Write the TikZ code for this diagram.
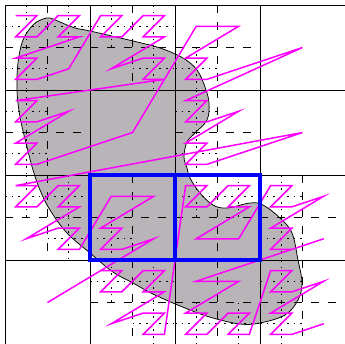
\documentclass[tikz,border=0pt]{standalone}
\definecolor{blobgray}{RGB}{184,180,184}
\definecolor{zmagenta}{RGB}{255,0,255}
\definecolor{patchblue}{RGB}{0,0,255}
\tikzset{
  solidline/.style={black, line width=1pt},
  dashline/.style={black, line width=1pt, dash pattern=on 10.6pt off 12.1pt},
  dotline/.style={black, line width=1.5pt, dash pattern=on 2.2pt off 6.8pt},
  zcurve/.style={zmagenta, line width=2pt, line join=miter},
  patchbox/.style={patchblue, line width=4.2pt}
}
\begin{document}
\begin{tikzpicture}[x=0.5cm,y=-0.5cm]
\useasboundingbox (-0.4706,-0.4706) rectangle (32,31.8118);

% Blob, traced in reference pixels
\begin{scope}[x=0.04706cm,y=-0.04706cm,shift={(-5,-5)}]
\draw[fill=blobgray, line width=1pt] plot[smooth cycle, tension=0.6] coordinates {
  (50,18) (60,22) (75,28) (90,31) (133,41) (160,48) (183,58) (197,70)
  (205,87) (209,103) (207,120) (195,133) (187,142) (184,157) (187,168)
  (190,178) (200,193) (213,205) (227,208) (250,203) (263,205) (280,218)
  (292,233) (298,260) (302,283) (298,300) (285,315) (260,323) (240,324)
  (213,318) (190,310) (155,295) (133,283) (113,272) (90,253) (67,233)
  (50,210) (40,190) (33,170) (27,147) (20,117) (17,90) (18,63) (23,40)
  (33,25) (43,19)
};
\end{scope}

% Solid lines
\foreach \k in {0,8,16,24,32} {
  \draw[solidline] (\k,0) -- (\k,32);
  \draw[solidline] (0,\k) -- (32,\k);
}

% Dashed crosses, one per split cell
\foreach \x/\y in {0/0,8/0,0/8,16/0,16/8,0/16,8/16,8/24,16/16,24/16,16/24,24/24} {
  \draw[dashline] (\x,\y+4) -- (\x+8,\y+4);
  \draw[dashline] (\x+4,\y) -- (\x+4,\y+8);
}

% Dotted crosses
\foreach \x/\y in {0/0,4/0,0/4,8/0,12/0,12/4,0/8,0/12,16/4,16/8,16/12,0/16,4/16,4/20,
  8/20,8/24,12/24,12/28,16/16,20/16,24/16,24/20,16/28,20/28,24/24,24/28} {
  \draw[dotline] (\x,\y+2) -- (\x+4,\y+2);
  \draw[dotline] (\x+2,\y) -- (\x+2,\y+4);
}

% Z-order curve
\draw[zcurve] plot coordinates {
  (1,1) (3,1) (1,3) (3,3) (5,1) (7,1) (5,3) (7,3) (1,5) (3,5) (1,7) (3,7) (6,6)
  (9,1) (11,1) (9,3) (11,3) (13,1) (15,1) (13,3) (15,3) (10,6) (13,5) (15,5) (13,7) (15,7)
  (1,9) (3,9) (1,11) (3,11) (6,10) (1,13) (3,13) (1,15) (3,15) (6,14) (12,12)
  (18,2) (22,2) (17,5) (19,5) (17,7) (19,7) (22,6) (28,4)
  (17,9) (19,9) (17,11) (19,11) (22,10) (17,13) (19,13) (17,15) (19,15) (22,14) (28,12)
  (1,17) (3,17) (1,19) (3,19) (5,17) (7,17) (5,19) (7,19) (2,22) (5,21) (7,21) (5,23) (7,23)
  (10,18) (14,18) (9,21) (11,21) (9,23) (11,23) (14,22)
  (4,28) (9,25) (11,25) (9,27) (11,27) (13,25) (15,25) (13,27) (15,27) (10,30)
  (13,29) (15,29) (13,31) (15,31)
  (17,17) (19,17) (17,19) (19,19) (21,17) (23,17) (21,19) (23,19) (18,22) (22,22)
  (25,17) (27,17) (25,19) (27,19) (30,18) (25,21) (27,21) (25,23) (27,23) (30,22)
  (18,26) (22,26) (17,29) (19,29) (17,31) (19,31) (21,29) (23,29) (21,31) (23,31)
  (25,25) (27,25) (25,27) (27,27) (30,26) (25,29) (27,29) (25,31) (27,31) (30,30)
};

% Blue patch
\draw[patchbox] (8,16) rectangle (16,24);
\draw[patchbox] (16,16) rectangle (24,24);

\end{tikzpicture}
\end{document}
